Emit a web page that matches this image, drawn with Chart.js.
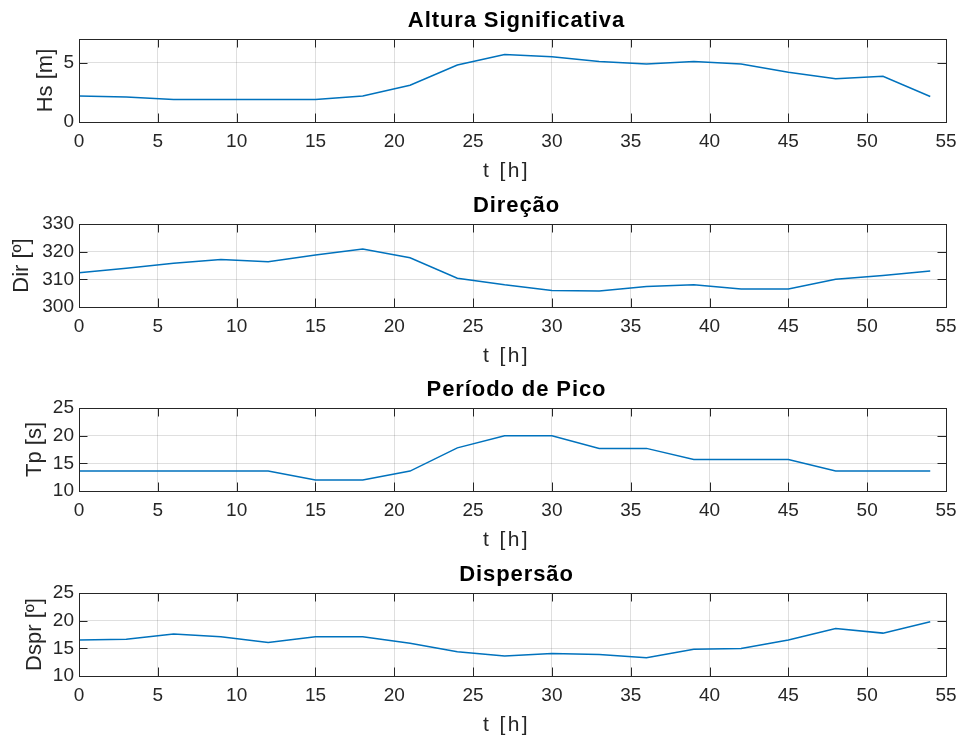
<!DOCTYPE html>
<html>
<head>
<meta charset="utf-8">
<script src="https://cdn.jsdelivr.net/npm/chart.js@4.4.1/dist/chart.umd.min.js"></script>
<style>
  html, body { margin: 0; padding: 0; background: #fff; }
  #figure { position: relative; width: 962px; height: 738px; }
  #figure canvas { position: absolute; left: 0; }
</style>
</head>
<body>
<div id="figure">
  <canvas id="hs" width="962" height="185" style="top:0px"></canvas>
  <canvas id="dir" width="962" height="185" style="top:185px"></canvas>
  <canvas id="tp" width="962" height="185" style="top:369px"></canvas>
  <canvas id="dspr" width="962" height="185" style="top:554px"></canvas>
</div>
<script>
// time axis, one sample every 3 h
const hours = [0, 3, 6, 9, 12, 15, 18, 21, 24, 27, 30, 33, 36, 39, 42, 45, 48, 51, 54];

const hsValues = [2.2, 2.1, 1.9, 1.9, 1.9, 1.9, 2.2, 3.1, 4.8, 5.7, 5.5, 5.1, 4.9, 5.1, 4.9, 4.2, 3.65, 3.85, 2.15];
const dirValues = [312.4, 314, 315.8, 317.2, 316.4, 318.8, 321, 317.8, 310.4, 308, 306, 305.8, 307.4, 308, 306.5, 306.5, 310, 311.4, 313];
const tpValues = [13.6, 13.6, 13.6, 13.6, 13.6, 12, 12, 13.6, 17.8, 20, 20, 17.7, 17.7, 15.7, 15.7, 15.7, 13.6, 13.6, 13.6];
const dsprValues = [16.5, 16.65, 17.6, 17.1, 16.05, 17.1, 17.1, 15.9, 14.4, 13.6, 14.05, 13.9, 13.3, 14.85, 14.95, 16.5, 18.6, 17.75, 19.8];

const xTicks = [0, 5, 10, 15, 20, 25, 30, 35, 40, 45, 50, 55];
const xLabel = "t [h]";

const LINE_COLOR = "#0072BD";
const AXIS_COLOR = "#262626";
const GRID_COLOR = "rgba(38, 38, 38, 0.15)";
const TICK_LEN = 8.5;
const FONT_FAMILY = '"Liberation Sans", Arial, Helvetica, sans-serif';

Chart.defaults.font.family = FONT_FAMILY;
Chart.defaults.color = AXIS_COLOR;

// matlab-like box: closed frame plus inward tick marks on all four sides
const axesBoxPlugin = {
  id: "axesBox",
  afterDatasetsDraw(chart) {
    const { ctx, chartArea, scales } = chart;
    const { left, right, top, bottom } = chartArea;
    ctx.save();
    ctx.strokeStyle = AXIS_COLOR;
    ctx.lineWidth = 1;
    ctx.beginPath();
    scales.x.ticks.forEach((t) => {
      const px = Math.round(scales.x.getPixelForValue(t.value)) + 0.5;
      ctx.moveTo(px, bottom);
      ctx.lineTo(px, bottom - TICK_LEN);
      ctx.moveTo(px, top);
      ctx.lineTo(px, top + TICK_LEN);
    });
    scales.y.ticks.forEach((t) => {
      const py = Math.round(scales.y.getPixelForValue(t.value)) + 0.5;
      ctx.moveTo(left, py);
      ctx.lineTo(left + TICK_LEN, py);
      ctx.moveTo(right, py);
      ctx.lineTo(right - TICK_LEN, py);
    });
    ctx.stroke();
    ctx.strokeRect(Math.round(left) + 0.5, Math.round(top) + 0.5, Math.round(right - left), Math.round(bottom - top));
    ctx.restore();
  },
};

// panel title and axis labels, drawn here so the letter spacing can be set
const panelTextPlugin = {
  id: "panelText",
  afterDraw(chart, args, opts) {
    const { ctx, chartArea } = chart;
    const { left, right, top, bottom } = chartArea;
    const cx = (left + right) / 2;
    ctx.save();
    ctx.textAlign = "center";
    ctx.textBaseline = "middle";

    ctx.fillStyle = "#000";
    ctx.font = `bold 22px ${FONT_FAMILY}`;
    ctx.letterSpacing = "0.9px";
    ctx.fillText(opts.title, cx + 4, 20.5);

    ctx.fillStyle = AXIS_COLOR;
    ctx.font = `21px ${FONT_FAMILY}`;
    ctx.letterSpacing = "2.4px";
    ctx.fillText(xLabel, cx - 6, bottom + 49);

    ctx.font = `22px ${FONT_FAMILY}`;
    ctx.letterSpacing = "0px";
    ctx.translate(opts.yLabelX, (top + bottom) / 2);
    ctx.rotate(-Math.PI / 2);
    ctx.fillText(opts.yLabel, 0, 0);
    ctx.restore();
  },
};

function makePanel(id, { title, yLabel, values, yMin, yMax, yStep, yLabelX }) {
  return new Chart(document.getElementById(id), {
    type: "line",
    data: {
      datasets: [
        {
          data: hours.map((h, i) => ({ x: h, y: values[i] })),
          borderColor: LINE_COLOR,
          borderWidth: 1.5,
          pointRadius: 0,
          tension: 0,
          fill: false,
        },
      ],
    },
    plugins: [axesBoxPlugin, panelTextPlugin],
    options: {
      responsive: false,
      animation: false,
      layout: { padding: { left: 0, right: 16, top: 39, bottom: 0 } },
      plugins: {
        legend: { display: false },
        tooltip: { enabled: false },
        title: { display: false },
        panelText: { title, yLabel, yLabelX },
      },
      scales: {
        x: {
          type: "linear",
          min: 0,
          max: 55,
          afterBuildTicks: (scale) => {
            scale.ticks = xTicks.map((v) => ({ value: v }));
          },
          afterFit: (scale) => {
            scale.height = 63;
            // edge labels may overhang the frame, like the "55" on the right
            scale.paddingLeft = 0;
            scale.paddingRight = 0;
          },
          ticks: { color: AXIS_COLOR, font: { size: 19 }, padding: 8, maxRotation: 0 },
          grid: { color: GRID_COLOR, drawTicks: false },
          border: { display: false },
        },
        y: {
          min: yMin,
          max: yMax,
          afterFit: (scale) => {
            scale.width = 79;
          },
          ticks: { color: AXIS_COLOR, font: { size: 19 }, padding: 5, stepSize: yStep, includeBounds: false },
          grid: { color: GRID_COLOR, drawTicks: false },
          border: { display: false },
        },
      },
    },
  });
}

makePanel("hs", { title: "Altura Significativa", yLabel: "Hs [m]", values: hsValues, yMin: 0, yMax: 7, yStep: 5, yLabelX: 46 });
makePanel("dir", { title: "Direção", yLabel: "Dir [º]", values: dirValues, yMin: 300, yMax: 330, yStep: 10, yLabelX: 22 });
makePanel("tp", { title: "Período de Pico", yLabel: "Tp [s]", values: tpValues, yMin: 10, yMax: 25, yStep: 5, yLabelX: 35 });
makePanel("dspr", { title: "Dispersão", yLabel: "Dspr [º]", values: dsprValues, yMin: 10, yMax: 25, yStep: 5, yLabelX: 35 });
</script>
</body>
</html>
